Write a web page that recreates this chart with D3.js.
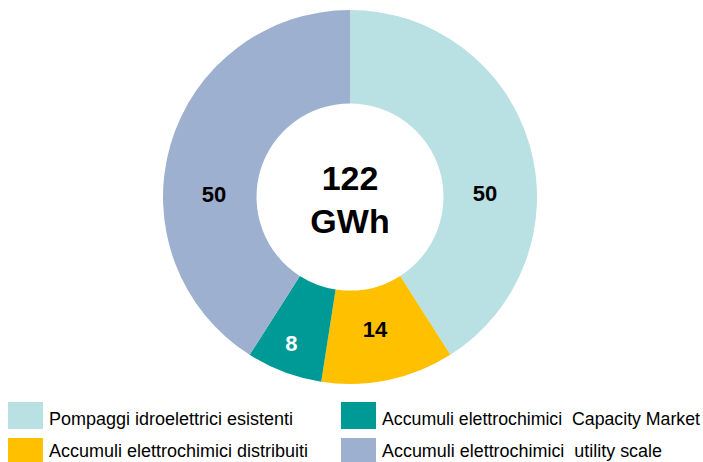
<!DOCTYPE html>
<html>
<head>
<meta charset="utf-8">
<script src="https://cdn.jsdelivr.net/npm/d3@7"></script>
<style>
  body { margin: 0; background: #fff; }
  svg { display: block; font-family: "Liberation Sans", Arial, sans-serif; }
</style>
</head>
<body>
<div id="container"></div>
<script>
// chart data
const categories = [
    "Pompaggi idroelettrici esistenti",
    "Accumuli elettrochimici distribuiti",
    "Accumuli elettrochimici  Capacity Market",
    "Accumuli elettrochimici  utility scale"
];
const values = [50, 14, 8, 50];
const colors = ["#b9e0e3", "#ffc000", "#009a96", "#9db0cf"];
const labelColors = ["#000", "#000", "#fff", "#000"];
const totalLabel = ["122", "GWh"];

// legend order (two columns)
const legendOrder = [0, 2, 1, 3];
const legendWidths = [244, 318, 259, 280];

const width = 703;
const height = 462;
const cx = 350, cy = 197;
const rOuter = 187, rInner = 93.5;

const svg = d3.create("svg")
    .attr("width", width)
    .attr("height", height)
    .attr("viewBox", [0, 0, width, height]);

const pie = d3.pie().sort(null).value(d => d)(values);
const arc = d3.arc().innerRadius(rInner).outerRadius(rOuter);

const g = svg.append("g").attr("transform", `translate(${cx},${cy})`);

g.selectAll("path")
    .data(pie)
    .join("path")
    .attr("d", arc)
    .attr("fill", (d, i) => colors[i]);

// label position: horizontal direction if the slice covers it, else mid angle
// (narrow slices get pushed outward, where there's more room)
function labelPos(d) {
    const a0 = d.startAngle, a1 = d.endAngle;
    if (a0 <= Math.PI / 2 && a1 >= Math.PI / 2) return [135, -4];
    if (a0 <= 3 * Math.PI / 2 && a1 >= 3 * Math.PI / 2) return [-136, -3];
    const a = (a0 + a1) / 2 + 0.02;
    const r = (a1 - a0) < 0.5 ? rOuter - 29 : 135;
    return [r * Math.sin(a), -r * Math.cos(a)];
}

g.selectAll("text.val")
    .data(pie)
    .join("text")
    .attr("class", "val")
    .attr("x", d => labelPos(d)[0])
    .attr("y", d => labelPos(d)[1])
    .attr("dy", "0.35em")
    .attr("text-anchor", "middle")
    .attr("font-size", 22)
    .attr("font-weight", "bold")
    .attr("fill", (d, i) => labelColors[i])
    .text(d => d.data);

g.selectAll("text.total")
    .data(totalLabel)
    .join("text")
    .attr("class", "total")
    .attr("x", 0)
    .attr("y", (d, i) => i === 0 ? -7 : 36)
    .attr("text-anchor", "middle")
    .attr("font-size", 34)
    .attr("font-weight", "bold")
    .attr("fill", "#000")
    .text(d => d);

// legend
const legend = svg.append("g");
const item = legend.selectAll("g")
    .data(legendOrder)
    .join("g")
    .attr("transform", (d, k) => `translate(${k % 2 === 0 ? 8 : 341},${k < 2 ? 402 : 438})`);

item.append("rect")
    .attr("width", 35)
    .attr("height", 27)
    .attr("fill", d => colors[d]);

item.append("text")
    .attr("x", 41)
    .attr("y", (d, k) => k < 2 ? 23 : 19)
    .attr("font-size", 17.5)
    .attr("fill", "#000")
    .attr("textLength", (d, k) => legendWidths[k])
    .attr("lengthAdjust", "spacingAndGlyphs")
    .text(d => categories[d].replace("  ", "\u00a0 "));

d3.select("#container").append(() => svg.node());
</script>
</body>
</html>
